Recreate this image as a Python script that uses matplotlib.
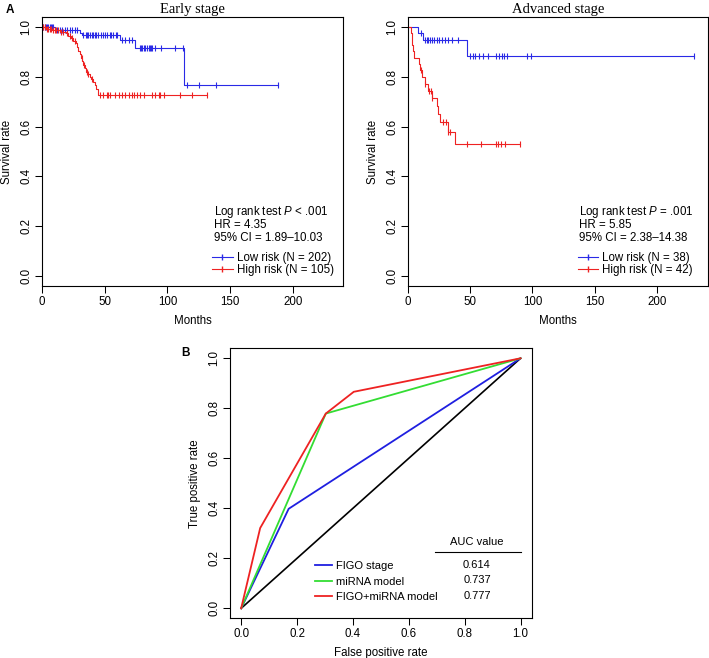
import numpy as np
import matplotlib.pyplot as plt
from matplotlib.lines import Line2D

plt.rcParams['font.family'] = ['Liberation Sans', 'DejaVu Sans']
plt.rcParams['mathtext.fontset'] = 'custom'
plt.rcParams['mathtext.it'] = 'Liberation Sans:italic'
plt.rcParams['mathtext.rm'] = 'Liberation Sans'

# ---- data: Kaplan-Meier curves (months, survival after each drop) ----
early_low_t = [10.4, 30, 32, 62, 74, 113.5]
early_low_s = [0.987, 0.977, 0.967, 0.947, 0.916, 0.765]
early_low_cens = [1, 2, 3, 4, 5, 6, 7, 8, 9, 12, 14, 16, 18, 20, 22, 24, 26, 28,
                  33, 35, 36, 37, 38, 40, 41, 42, 43, 45, 47, 49, 50, 52, 54, 55,
                  57, 59, 60, 64, 66, 69, 72, 78, 79, 80, 81, 82, 84, 85, 86, 87,
                  88, 90, 95, 106, 112.5, 116, 125.5, 138.5, 188.5]

early_high_t = [3, 8, 14, 19, 21, 23, 25, 27, 28, 29, 30, 31, 32, 33, 34, 35,
                36, 38, 39, 41, 42, 43, 45]
early_high_s = [0.993, 0.987, 0.98, 0.974, 0.965, 0.955, 0.945, 0.935, 0.92,
                0.905, 0.89, 0.875, 0.862, 0.848, 0.835, 0.82, 0.81, 0.80, 0.79,
                0.78, 0.768, 0.75, 0.727]
early_high_cens = [1, 2, 4, 5, 6, 7, 9, 10, 11, 13, 15, 17, 20, 22, 24, 26, 31.5,
                   33.5, 35.5, 37, 40, 46, 49, 51.5, 53, 54.5, 58, 61, 63.5, 66,
                   69, 71.5, 73, 75.5, 78, 81, 87.5, 90, 93, 94, 97, 110, 119.5,
                   131.5]

adv_low_t = [7.8, 12.3, 47.2]
adv_low_s = [0.974, 0.947, 0.884]
adv_low_cens = [10.5, 13.7, 15, 16.3, 17.7, 19, 21, 23, 25, 27, 30, 32, 35, 40.5,
                50, 52.5, 54, 57, 60.5, 64.5, 71, 73, 75.5, 77.5, 79.5, 95.5, 99,
                230]

adv_high_t = [2.5, 3, 3.5, 4, 4.5, 8.5, 10, 11.5, 13.5, 16, 19, 23.5, 24.5, 26,
              32, 38]
adv_high_s = [0.976, 0.952, 0.929, 0.905, 0.877, 0.853, 0.829, 0.800, 0.772,
              0.743, 0.714, 0.683, 0.651, 0.618, 0.578, 0.529]
adv_high_cens = [10.5, 14, 16.5, 18.5, 19.5, 28.5, 30.5, 32.5, 34, 47, 58.5, 70.5,
                 72.5, 74.5, 78, 90]

early_stats = [r'Log rank test $P$ < .001', 'HR = 4.35', '95% CI = 1.89\u201310.03']
early_labels = ['Low risk (N = 202)', 'High risk (N = 105)']
adv_stats = [r'Log rank test $P$ = .001', 'HR = 5.85', '95% CI = 2.38\u201314.38']
adv_labels = ['Low risk (N = 38)', 'High risk (N = 42)']

# ---- data: ROC curves ----
roc_names = ['FIGO stage', 'miRNA model', 'FIGO+miRNA model']
roc_auc = ['0.614', '0.737', '0.777']
roc_fpr = [[0, 0.17, 1], [0, 0.303, 1], [0, 0.068, 0.303, 0.403, 1]]
roc_tpr = [[0, 0.398, 1], [0, 0.779, 1], [0, 0.321, 0.779, 0.866, 1]]
roc_colors = ['#1f1fe0', '#33dd33', '#ee2222']

BLUE = '#2a2ae6'
RED = '#ee2222'
FS = 8.3


def km(ax, t, s, cens, color):
    end = max(max(cens), t[-1])
    x = [0] + list(t) + [end]
    y = [1.0] + list(s) + [s[-1]]
    ax.step(x, y, where='post', color=color, lw=0.8)
    levels = np.array([1.0] + list(s))
    cy = levels[np.searchsorted(t, cens, side='right')]
    ax.plot(cens, cy, ls='none', marker='|', ms=4, mew=0.8, color=color)


def style(ax):
    for sp in ax.spines.values():
        sp.set_linewidth(0.8)
    ax.tick_params(direction='out', length=5, width=0.75, labelsize=FS, pad=2)
    for lab in ax.get_yticklabels():
        lab.set_rotation(90)
        lab.set_va('center')


def km_panel(ax, title, curves, stats, labels, xmax):
    for t, s, c, col in curves:
        km(ax, t, s, c, col)
    ax.set_xlim(0, xmax)
    ax.set_ylim(-0.04, 1.04)
    ax.set_xticks([0, 50, 100, 150, 200])
    ax.set_yticks([0, 0.2, 0.4, 0.6, 0.8, 1.0])
    ax.set_yticklabels(['0.0', '0.2', '0.4', '0.6', '0.8', '1.0'])
    ax.set_title(title, family='Liberation Serif', fontsize=10.5, pad=3)
    ax.set_xlabel('Months', fontsize=FS, labelpad=5)
    ax.set_ylabel('Survival rate', fontsize=FS, labelpad=5)
    for i, line in enumerate(stats):
        ax.text(0.571, 0.275 - i * 0.048, line, transform=ax.transAxes,
                fontsize=FS, va='center', ha='left')
    handles = [Line2D([], [], color=BLUE, lw=0.8, marker='|', ms=5),
               Line2D([], [], color=RED, lw=0.8, marker='|', ms=5)]
    ax.legend(handles, labels, loc='upper left', bbox_to_anchor=(0.566, 0.128),
              frameon=False, fontsize=FS, borderpad=0, borderaxespad=0,
              handlelength=1.75, handletextpad=0.35, labelspacing=0.0,
              numpoints=1)
    style(ax)


fig = plt.figure(figsize=(7.09, 6.58), dpi=100)

ax1 = fig.add_axes([42 / 709, 1 - 286 / 658, 301 / 709, 269 / 658])
km_panel(ax1, 'Early stage',
         [(early_low_t, early_low_s, early_low_cens, BLUE),
          (early_high_t, early_high_s, early_high_cens, RED)],
         early_stats, early_labels, 240)

ax2 = fig.add_axes([408 / 709, 1 - 286 / 658, 300 / 709, 269 / 658])
km_panel(ax2, 'Advanced stage',
         [(adv_low_t, adv_low_s, adv_low_cens, BLUE),
          (adv_high_t, adv_high_s, adv_high_cens, RED)],
         adv_stats, adv_labels, 241)

# ROC panel
ax3 = fig.add_axes([230 / 709, 1 - 618.3 / 658, 301.7 / 709, 270 / 658])
ax3.plot([0, 1], [0, 1], color='black', lw=1.2)
for fpr, tpr, col in zip(roc_fpr, roc_tpr, roc_colors):
    ax3.plot(fpr, tpr, color=col, lw=1.3)
ax3.set_xlim(-0.04, 1.04)
ax3.set_ylim(-0.04, 1.04)
ticks = [0, 0.2, 0.4, 0.6, 0.8, 1.0]
ax3.set_xticks(ticks)
ax3.set_xticklabels(['0.0', '0.2', '0.4', '0.6', '0.8', '1.0'])
ax3.set_yticks(ticks)
ax3.set_yticklabels(['0.0', '0.2', '0.4', '0.6', '0.8', '1.0'])
ax3.set_xlabel('False positive rate', fontsize=FS, labelpad=5)
ax3.set_ylabel('True positive rate', fontsize=FS, labelpad=5)
style(ax3)

handles = [Line2D([], [], color=c, lw=1.3) for c in roc_colors]
ax3.legend(handles, roc_names, loc='upper left', bbox_to_anchor=(0.282, 0.211),
           frameon=False, fontsize=8, borderpad=0, borderaxespad=0,
           handlelength=1.5, handletextpad=0.35, labelspacing=0.48)
row_y = [0.174, 0.114, 0.049]
for y, v in zip(row_y, roc_auc):
    ax3.text(0.844, y, v, fontsize=8, ha='center', va='center')
ax3.text(0.844, 0.267, 'AUC value', fontsize=8, ha='center', va='center')
ax3.plot([0.695, 1.0], [0.227, 0.227], color='black', lw=0.8)

fig.text(10 / 709, 1 - 10 / 658, 'A', fontsize=8.5, weight='bold', ha='center', va='center')
fig.text(185 / 709, 1 - 353 / 658, 'B', fontsize=8.5, weight='bold', ha='center', va='center')

fig.savefig('out.png', dpi=100)
